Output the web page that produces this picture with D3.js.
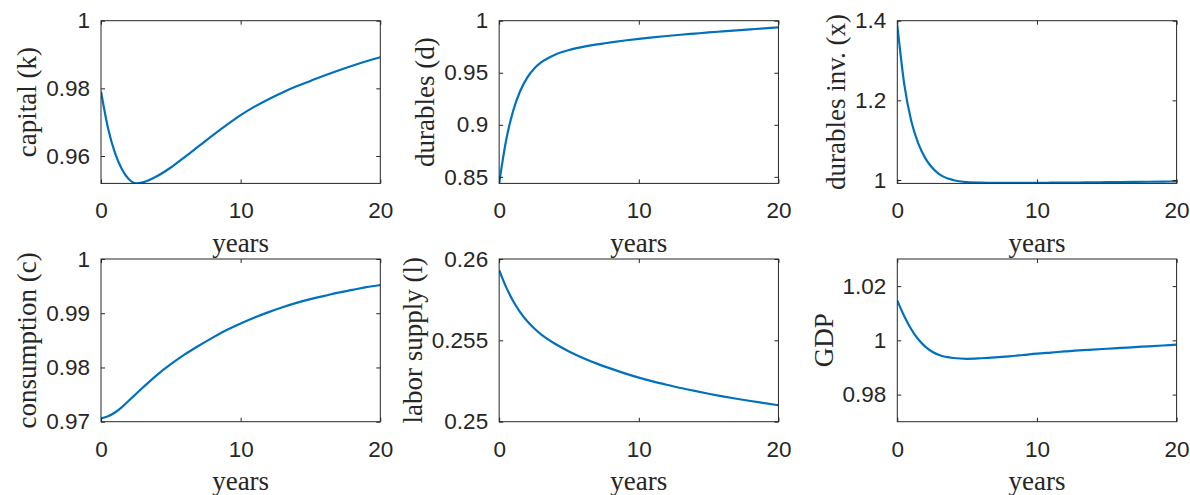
<!DOCTYPE html>
<html>
<head>
<meta charset="utf-8">
<script src="https://cdn.jsdelivr.net/npm/d3@7"></script>
<style>
  body { margin: 0; background: #fff; }
  svg { display: block; }
</style>
</head>
<body>
<div id="chart"></div>
<script>
// horizon in years
const years = [0, 0.5, 1, 1.5, 2, 2.5, 3, 4, 5, 6, 7, 8, 9, 10, 11, 12, 13, 14, 15, 16, 17, 18, 19, 20];

const capital = [0.9791, 0.9683, 0.9609, 0.9561, 0.9531, 0.9519, 0.9522, 0.9540, 0.9566, 0.9597, 0.9629, 0.9661, 0.9692, 0.9721,
  0.9746, 0.9768, 0.9788, 0.9806, 0.9822, 0.9838, 0.9853, 0.9867, 0.9880, 0.9892];
const durables = [0.8440, 0.8852, 0.9132, 0.9322, 0.9451, 0.9539, 0.9599, 0.9674, 0.9718, 0.9748, 0.9772, 0.9792, 0.9810, 0.9826,
  0.9840, 0.9853, 0.9865, 0.9876, 0.9887, 0.9897, 0.9907, 0.9917, 0.9927, 0.9936];
const durablesInv = [1.389, 1.240, 1.148, 1.092, 1.055, 1.031, 1.015, 1.000, 0.9945, 0.9932, 0.9927, 0.9926, 0.9927, 0.9929,
  0.9932, 0.9935, 0.9938, 0.9942, 0.9945, 0.9949, 0.9953, 0.9957, 0.9961, 0.9965];
const consumption = [0.9706, 0.9710, 0.9717, 0.9727, 0.9739, 0.9751, 0.9763, 0.9786, 0.9806, 0.9824, 0.9840, 0.9855, 0.9869, 0.9881,
  0.9892, 0.9902, 0.9911, 0.9919, 0.9926, 0.9932, 0.9938, 0.9943, 0.9948, 0.9952];
const labor = [0.25932, 0.25827, 0.25742, 0.25674, 0.25619, 0.25574, 0.25537, 0.25479, 0.25432, 0.25392, 0.25357, 0.25326,
  0.25297, 0.25271, 0.25248, 0.25227, 0.25207, 0.25189, 0.25172, 0.25156, 0.25141, 0.25127, 0.25114, 0.25101];
const gdp = [1.0147, 1.0089, 1.0041, 1.0004, 0.9977, 0.9958, 0.9946, 0.9935, 0.9932, 0.9934, 0.9937, 0.9941, 0.9946, 0.9951,
  0.9955, 0.9959, 0.9963, 0.9966, 0.9969, 0.9972, 0.9975, 0.9978, 0.9981, 0.9984];

const series = [capital, durables, durablesInv, consumption, labor, gdp];
const yLabels = ["capital (k)", "durables (d)", "durables inv. (x)", "consumption (c)", "labor supply (l)", "GDP"];
const yDomains = [[0.9519, 1], [0.8437, 1], [0.9915, 1.4], [0.97, 1], [0.25, 0.26], [0.97, 1.03]];
const yTicks = [[0.96, 0.98, 1], [0.85, 0.9, 0.95, 1], [1, 1.2, 1.4], [0.97, 0.98, 0.99, 1], [0.25, 0.255, 0.26], [0.98, 1, 1.02]];
const xTicks = [0, 10, 20];
const xLabel = "years";

const W = 1190, H = 495;
const plotLeft = 101, plotTop = 20.7;
const plotW = 279.3, plotH = 162.7;
const colStep = 398.15, rowStep = 238.3;
const axisColor = "#262626";
const lineColor = "#0072BD";
const sans = "'Liberation Sans', Arial, sans-serif";
const serif = "'Liberation Serif', 'Times New Roman', serif";

const svg = d3.select("#chart").append("svg")
  .attr("width", W).attr("height", H);

const fmt = d3.format("~g");

series.forEach((values, i) => {
  const col = i % 3, row = Math.floor(i / 3);
  const g = svg.append("g")
    .attr("transform", `translate(${plotLeft + col * colStep},${plotTop + row * rowStep})`);

  const x = d3.scaleLinear().domain([0, 20]).range([0, plotW]);
  const y = d3.scaleLinear().domain(yDomains[i]).range([plotH, 0]);

  g.append("clipPath").attr("id", "clip" + i)
    .append("rect").attr("width", plotW).attr("height", plotH);

  // line
  const line = d3.line()
    .x((d, k) => x(years[k]))
    .y(d => y(d))
    .curve(d3.curveMonotoneX);
  g.append("path")
    .datum(values)
    .attr("clip-path", `url(#clip${i})`)
    .attr("fill", "none")
    .attr("stroke", lineColor)
    .attr("stroke-width", 2.2)
    .attr("d", line);

  // axes, ticks pointing inward on all four sides
  g.append("g").attr("transform", `translate(0,${plotH})`)
    .call(d3.axisBottom(x).tickValues(xTicks).tickFormat(fmt).tickSize(-4).tickPadding(19));
  const left = g.append("g")
    .call(d3.axisLeft(y).tickValues(yTicks[i]).tickFormat(fmt).tickSize(-4).tickPadding(11));
  g.append("g")
    .call(d3.axisTop(x).tickValues(xTicks).tickFormat("").tickSize(-4));
  g.append("g").attr("transform", `translate(${plotW},0)`)
    .call(d3.axisRight(y).tickValues(yTicks[i]).tickFormat("").tickSize(-4));

  g.selectAll(".domain").remove();
  g.selectAll(".tick line").attr("stroke", axisColor).attr("stroke-width", 1);
  g.selectAll(".tick text")
    .attr("fill", axisColor)
    .style("font-family", sans)
    .style("font-size", "22.5px");

  g.append("rect")
    .attr("width", plotW).attr("height", plotH)
    .attr("fill", "none")
    .attr("stroke", axisColor)
    .attr("stroke-width", 1);

  // x label
  g.append("text")
    .attr("x", plotW / 2).attr("y", plotH + 68.7)
    .attr("text-anchor", "middle")
    .attr("fill", axisColor)
    .style("font-family", serif)
    .style("font-size", "27px")
    .text(xLabel);

  // y label placed left of the widest tick label
  const bb = left.node().getBBox();
  g.append("text")
    .attr("transform", `translate(${bb.x - 10},${plotH / 2}) rotate(-90)`)
    .attr("text-anchor", "middle")
    .attr("fill", axisColor)
    .style("font-family", serif)
    .style("font-size", "27px")
    .text(yLabels[i]);
});
</script>
</body>
</html>
